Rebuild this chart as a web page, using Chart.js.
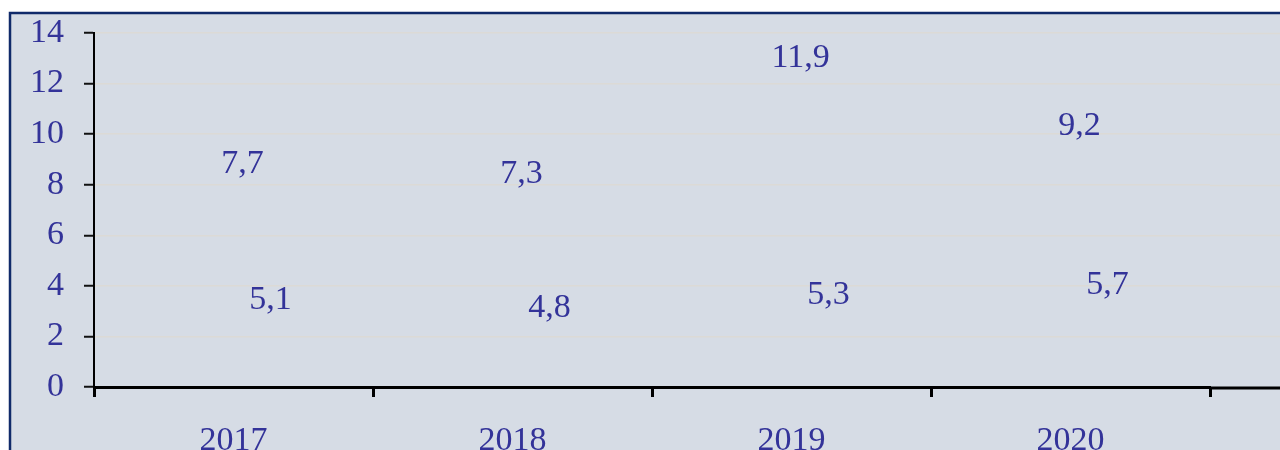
<!DOCTYPE html>
<html>
<head>
<meta charset="utf-8">
<script src="https://cdn.jsdelivr.net/npm/chart.js@4"></script>
<style>
  html, body { margin: 0; padding: 0; background: #fff; overflow: hidden; }
  #wrap { width: 1280px; height: 450px; }
</style>
</head>
<body>
<div id="wrap"><canvas id="myChart" width="1280" height="450"></canvas></div>
<script>
'use strict';

var years = ['2017', '2018', '2019', '2020'];
var seriesA = [7.7, 7.3, 11.9, 9.2];
var seriesB = [5.1, 4.8, 5.3, 5.7];
var yTicks = [0, 2, 4, 6, 8, 10, 12, 14];

var textColor = '#333399';
var fontFamily = "'Liberation Serif', 'Times New Roman', serif";

function fmt(v) {
    return String(v.toFixed(1)).replace('.', ',');
}

// panel background + frame, and grid/axis running past the last tick
var framePlugin = {
    id: 'frame',
    beforeDraw: function (chart) {
        var c = chart.ctx;
        c.save();
        c.fillStyle = '#ffffff';
        c.fillRect(0, 0, chart.width, chart.height);
        c.fillStyle = '#d6dce5';
        c.fillRect(10, 13, chart.width + 20, chart.height + 20);
        c.strokeStyle = '#102a6a';
        c.lineWidth = 2.5;
        c.strokeRect(10, 13, chart.width + 20, chart.height + 20);
        c.restore();
    },
    afterDraw: function (chart) {
        var c = chart.ctx;
        var area = chart.chartArea;
        var y = chart.scales.y;
        c.save();
        c.strokeStyle = '#dcdad6';
        c.lineWidth = 1.5;
        yTicks.forEach(function (t) {
            if (t === 0) return;
            var py = Math.round(y.getPixelForValue(t)) + 0.5;
            c.beginPath();
            c.moveTo(area.right, py);
            c.lineTo(chart.width, py);
            c.stroke();
        });
        c.strokeStyle = '#000';
        c.lineWidth = 3;
        var py0 = y.getPixelForValue(0) + 1;
        c.beginPath();
        c.moveTo(area.right + 1, py0);
        c.lineTo(chart.width, py0);
        c.stroke();
        c.restore();
    }
};

// value labels, comma decimals
var labelPlugin = {
    id: 'valueLabels',
    afterDatasetsDraw: function (chart) {
        var c = chart.ctx;
        var y = chart.scales.y;
        var offsets = [{ dx: 30, dy: -19 }, { dx: 16, dy: 51 }];
        c.save();
        c.fillStyle = textColor;
        c.font = '34px ' + fontFamily;
        c.textAlign = 'center';
        c.textBaseline = 'alphabetic';
        chart.data.datasets.forEach(function (ds, di) {
            var meta = chart.getDatasetMeta(di);
            meta.data.forEach(function (bar, i) {
                var v = ds.data[i];
                c.fillText(fmt(v), bar.x + offsets[di].dx, y.getPixelForValue(v) + offsets[di].dy);
            });
        });
        c.restore();
    }
};

var ctx = document.getElementById('myChart').getContext('2d');

var chart = new Chart(ctx, {
    type: 'bar',
    data: {
        labels: years,
        datasets: [{
                label: 'A',
                data: seriesA,
                backgroundColor: 'rgba(0,0,0,0)',
                borderWidth: 0
            },
            {
                label: 'B',
                data: seriesB,
                backgroundColor: 'rgba(0,0,0,0)',
                borderWidth: 0
            }
        ]
    },
    options: {
        responsive: false,
        animation: false,
        datasets: {
            bar: { categoryPercentage: 0.3, barPercentage: 1 }
        },
        layout: {
            padding: { left: 0, right: 70, top: 33, bottom: 0 }
        },
        plugins: {
            legend: { display: false },
            tooltip: { enabled: false }
        },
        scales: {
            x: {
                grid: {
                    drawOnChartArea: false,
                    offset: true,
                    tickLength: 10,
                    tickColor: '#000',
                    tickWidth: 3
                },
                border: { color: '#000', width: 3 },
                ticks: {
                    color: textColor,
                    font: { family: fontFamily, size: 34 },
                    padding: 24,
                    maxRotation: 0
                },
                afterFit: function (scale) {
                    scale.height = 63;
                    scale.paddingLeft = 0;
                    scale.paddingRight = 0;
                }
            },
            y: {
                min: 0,
                max: 14,
                afterBuildTicks: function (scale) {
                    scale.ticks = yTicks.map(function (v) { return { value: v }; });
                },
                grid: {
                    color: '#dcdad6',
                    lineWidth: 1.5,
                    tickLength: 10,
                    tickColor: '#111',
                    tickWidth: 2
                },
                border: { color: '#000', width: 2 },
                ticks: {
                    color: textColor,
                    font: { family: fontFamily, size: 34 },
                    padding: 20
                },
                afterFit: function (scale) {
                    scale.width = 94;
                    scale.paddingTop = 0;
                    scale.paddingBottom = 0;
                }
            }
        }
    },
    plugins: [framePlugin, labelPlugin]
});
</script>
</body>
</html>
